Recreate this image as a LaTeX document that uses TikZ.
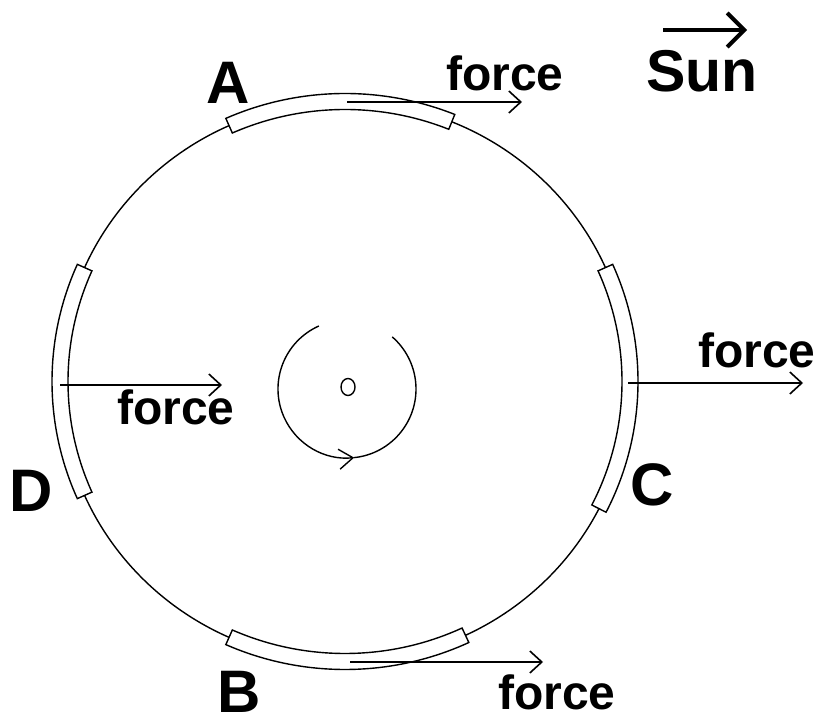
\documentclass[tikz,border=0pt]{standalone}
\usepackage{fontspec}
\setmainfont{Liberation Sans}
\usetikzlibrary{arrows.meta,calc}
\begin{document}
\begin{tikzpicture}[x=1pt,y=1pt,line width=1.4pt,
 forcearrow/.style={line width=1.6pt,-{Straight Barb[length=12pt,width=22pt,line width=1.6pt]}},
 seg/.style={draw,fill=white,line width=1.4pt},
 lbl/.style={font=\fontsize{60}{60}\selectfont\bfseries, inner sep=0pt, anchor=base},
 flbl/.style={font=\fontsize{48}{48}\selectfont\bfseries, inner sep=0pt, anchor=base},
 sunlbl/.style={font=\fontsize{59}{59}\selectfont\bfseries, inner sep=0pt, anchor=base}]
\useasboundingbox (0,0) rectangle (826,722);
\coordinate (O) at (345,340.5);
\draw (O) ellipse [x radius=285, y radius=280];
% segments
\foreach \a/\b in {68/114,-114/-65,-27/24,156/204}{
  \draw[seg] ($(O)+(\a:293 and 288)$) arc[start angle=\a,end angle=\b,x radius=293,y radius=288]
    -- ($(O)+(\b:277 and 272)$) arc[start angle=\b,end angle=\a,x radius=277,y radius=272] -- cycle;
}
% inner rotation
\coordinate (S) at (347,333);
\draw[-{Straight Barb[length=14pt,width=20pt,line width=1.4pt]}] ($(S)+(114:69)$) arc[start angle=114,end angle=276,radius=69];
\draw ($(S)+(276:69)$) arc[start angle=276,end angle=409,radius=69];
\draw (348,335) ellipse [x radius=7, y radius=8.5];
% force arrows
\coordinate (fAs) at (347,620); \coordinate (fAe) at (522,620);
\coordinate (fBs) at (350,60);  \coordinate (fBe) at (543,60);
\coordinate (fCs) at (628,339); \coordinate (fCe) at (803,339);
\coordinate (fDs) at (60,337);  \coordinate (fDe) at (222,337);
\draw[forcearrow] (fAs) -- (fAe);
\draw[forcearrow] (fBs) -- (fBe);
\draw[forcearrow] (fCs) -- (fCe);
\draw[forcearrow] (fDs) -- (fDe);
% labels
\node[lbl] (A) at (228,618) {A};
\node[lbl] (B) at (239,10) {B};
\node[lbl] (C) at (652,216) {C};
\node[lbl] (D) at (31,210) {D};
\node[flbl] (fA) at (505,631) {force};
\node[flbl] (fC) at (757,354) {force};
\node[flbl] (fD) at (176,297) {force};
\node[flbl] (fB) at (557,13) {force};
% sun
\node[sunlbl] (sun) at (702,630) {Sun};
\coordinate (sunS) at (663,692); \coordinate (sunE) at (747,692);
\draw[line width=4pt,-{Straight Barb[length=17pt,width=34pt,line width=4pt]}] (sunS) -- (sunE);
\end{tikzpicture}
\end{document}
